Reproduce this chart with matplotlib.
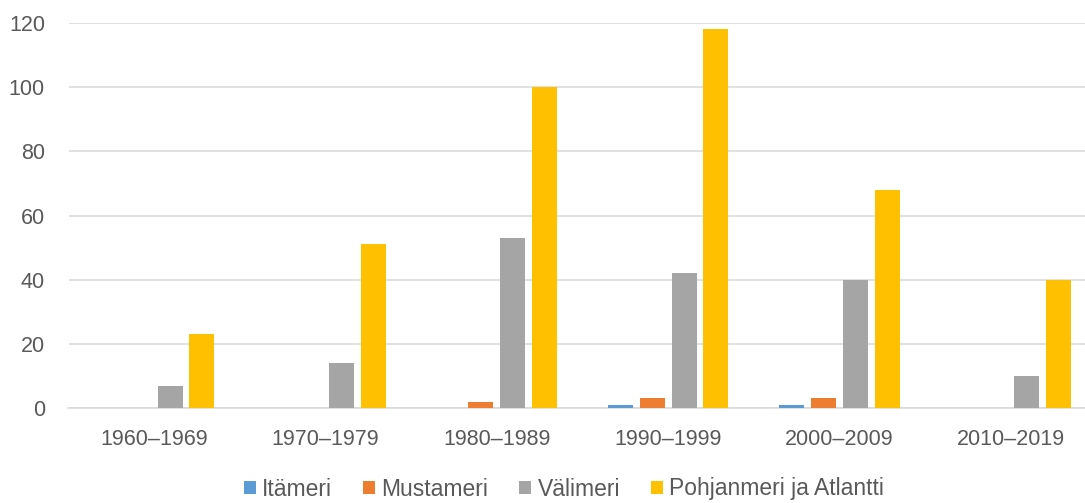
import matplotlib
matplotlib.use("Agg")
import matplotlib.pyplot as plt
import numpy as np

categories = ["1960–1969", "1970–1979", "1980–1989", "1990–1999", "2000–2009", "2010–2019"]
series_names = ["Itämeri", "Mustameri", "Välimeri", "Pohjanmeri ja Atlantti"]
itameri = [0, 0, 0, 1, 1, 0]
mustameri = [0, 0, 2, 3, 3, 0]
valimeri = [7, 14, 53, 42, 40, 10]
pohjanmeri = [23, 51, 100, 118, 68, 40]
yticks = [0, 20, 40, 60, 80, 100, 120]

colors = ["#5B9BD5", "#ED7D31", "#A5A5A5", "#FFC000"]
text_color = "#595959"
grid_color = "#D9D9D9"

plt.rcParams['font.family'] = ['Liberation Sans', 'DejaVu Sans']

W, H = 1085, 503
fig = plt.figure(figsize=(W / 100, H / 100), dpi=100)
ax = fig.add_axes([68.5 / W, (H - 408) / H, 1028 / W, 385 / H])

x = np.arange(len(categories))
step = 0.185
width = 0.146
data = [itameri, mustameri, valimeri, pohjanmeri]
handles = []
for i, (vals, name, c) in enumerate(zip(data, series_names, colors)):
    b = ax.bar(x + (i - 1.5) * step, vals, width=width, color=c, label=name, zorder=3)
    handles.append(b)

ax.set_xlim(-0.5, len(categories) - 0.5)
ax.set_ylim(0, 120)
ax.set_yticks(yticks)
ax.set_yticklabels([str(v) for v in yticks])
ax.set_xticks(x)
ax.set_xticklabels(categories)
ax.tick_params(axis='both', length=0, colors=text_color, labelsize=15.5)
ax.tick_params(axis='y', pad=17)
ax.tick_params(axis='x', pad=15)
ax.yaxis.grid(True, color=grid_color, linewidth=1.1, zorder=0)
ax.set_axisbelow(True)
for s in ["top", "right", "left"]:
    ax.spines[s].set_visible(False)
ax.spines["bottom"].set_color(grid_color)
ax.spines["bottom"].set_linewidth(1.1)

leg = fig.legend(handles=handles, labels=series_names, loc="center", bbox_to_anchor=(564 / W, 1 - 489 / H),
                 ncol=4, frameon=False, fontsize=16.5, handlelength=0.52, handleheight=0.52,
                 handletextpad=0.28, columnspacing=1.35, labelcolor=text_color,
                 borderpad=0, borderaxespad=0)

fig.savefig("out.png", dpi=100)
